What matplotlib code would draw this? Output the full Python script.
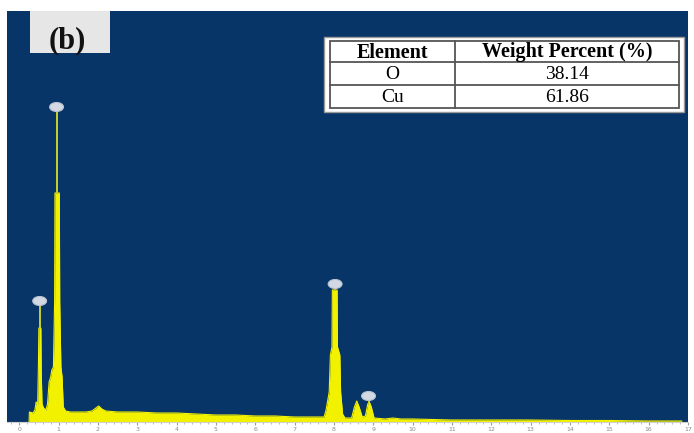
import matplotlib
matplotlib.use("Agg")
import matplotlib.pyplot as plt
from matplotlib.patches import Rectangle, Ellipse

# ---- data (counts in arbitrary units) ----
energy_kev = [0.25, 0.26, 0.35, 0.40, 0.43, 0.47, 0.49, 0.50, 0.55, 0.56, 0.58, 0.62,
              0.68, 0.72, 0.76, 0.80, 0.83, 0.87, 0.90, 0.91, 1.02, 1.03, 1.06, 1.09,
              1.12, 1.18, 1.30, 1.50, 1.70, 1.85, 1.95, 2.02, 2.10, 2.20, 2.50, 3.00,
              3.50, 4.00, 4.50, 5.00, 5.50, 6.00, 6.50, 7.00, 7.50, 7.75, 7.80, 7.88,
              7.91, 7.95, 7.96, 8.08, 8.09, 8.15, 8.17, 8.22, 8.28, 8.45, 8.52, 8.58,
              8.64, 8.72, 8.80, 8.86, 8.90, 8.95, 9.02, 9.30, 9.50, 9.70, 10.0, 11.0,
              12.0, 13.0, 14.0, 15.0, 16.0, 16.84]
counts = [0, 10, 9, 12, 20, 18, 60, 94, 94, 50, 18, 14,
          12, 18, 40, 45, 52, 55, 120, 229, 229, 120, 55, 45,
          15, 11, 10, 10, 10, 11, 14, 16, 13, 11, 10, 10,
          9, 9, 8, 7, 7, 6, 6, 5, 5, 5, 12, 30,
          67, 75, 132, 132, 75, 67, 30, 8, 4, 4, 15, 21,
          15, 5, 6, 18, 20, 15, 4, 3, 4, 3, 3, 2,
          2, 2, 1.5, 1.5, 1, 1]

marker_energy = [0.52, 0.95, 8.03, 8.88]
marker_peak = [94, 229, 132, 20]
marker_height = [121, 315, 138, 26]

table_header = ["Element", "Weight Percent (%)"]
elements = ["O", "Cu"]
weight_percent = ["38.14", "61.86"]

xticks = list(range(0, 18))
xtick_labels = [str(v) for v in xticks]

BLUE = "#083567"
YELLOW = "#f2f200"

W, H = 694, 433
fig = plt.figure(figsize=(W / 100, H / 100), dpi=100)
fig.patch.set_facecolor("white")
ax = fig.add_axes([7 / W, 11 / H, 681 / W, 411 / H])
ax.set_facecolor(BLUE)
ax.set_xlim(-0.31, 16.84)
ax.set_ylim(0, 411)

ax.fill_between(energy_kev, counts, 0, color=YELLOW, lw=0)
ax.plot(energy_kev, counts, color=YELLOW, lw=0.8)

# element markers
ax.vlines(marker_energy, marker_peak, marker_height, color="#c9d12a", lw=1.4, zorder=3)
for e, h in zip(marker_energy, marker_height):
    ax.add_patch(Ellipse((e, h), 14 / 39.71, 9, facecolor="#d3d9e3",
                         edgecolor="#b8c2d2", lw=0.8, zorder=4))

for s in ["top", "right", "left"]:
    ax.spines[s].set_visible(False)
ax.spines["bottom"].set_color("#cfcfcf")
ax.set_yticks([])
ax.set_xticks(xticks)
ax.set_xticklabels(xtick_labels, fontsize=4.5, color="#8a8a8a")
ax.set_xticks([v / 5 for v in range(-1, 85)], minor=True)
ax.tick_params(axis="x", which="major", length=2.5, color="#999999", pad=0.8)
ax.tick_params(axis="x", which="minor", length=1.6, color="#aaaaaa")

# (b) label box
def ax_x(px):
    return (px - 7) / 681

def ax_y(py):
    return (422 - py) / 411

ax.add_patch(Rectangle((ax_x(30), ax_y(53)), ax_x(110) - ax_x(30), ax_y(11) - ax_y(53),
                       transform=ax.transAxes, facecolor="#e6e6e6", edgecolor="none", zorder=5))
ax.text(ax_x(67), ax_y(41), "(b)", transform=ax.transAxes, ha="center", va="center",
        fontsize=22, fontweight="bold", family="Liberation Serif", color="#111111", zorder=6)

# table
ax.add_patch(Rectangle((ax_x(324), ax_y(112)), ax_x(684) - ax_x(324), ax_y(37) - ax_y(112),
                       transform=ax.transAxes, facecolor="white", edgecolor="#9a9a9a",
                       lw=1.0, zorder=5))
x0, x1, xm = 330, 679, 455
y0, y1, ya, yb = 41, 108, 62, 85
ax.add_patch(Rectangle((ax_x(x0), ax_y(y1)), ax_x(x1) - ax_x(x0), ax_y(y0) - ax_y(y1),
                       transform=ax.transAxes, facecolor="white", edgecolor="#555555",
                       lw=1.3, zorder=6))
ax.plot([ax_x(xm), ax_x(xm)], [ax_y(y0), ax_y(y1)], transform=ax.transAxes,
        color="#555555", lw=1.3, zorder=7)
for yy in (ya, yb):
    ax.plot([ax_x(x0), ax_x(x1)], [ax_y(yy), ax_y(yy)], transform=ax.transAxes,
            color="#555555", lw=1.3, zorder=7)

c1 = (x0 + xm) / 2
c2 = (xm + x1) / 2
rows_y = [(y0 + ya) / 2 + 1, (ya + yb) / 2 + 1, (yb + y1) / 2 + 1]
ax.text(ax_x(c1), ax_y(rows_y[0]), table_header[0], transform=ax.transAxes, ha="center",
        va="center", fontsize=14.5, fontweight="bold", family="Liberation Serif", zorder=8)
ax.text(ax_x(c2), ax_y(rows_y[0]), table_header[1], transform=ax.transAxes, ha="center",
        va="center", fontsize=14.5, fontweight="bold", family="Liberation Serif", zorder=8)
for i, (el, wp) in enumerate(zip(elements, weight_percent)):
    ax.text(ax_x(c1), ax_y(rows_y[i + 1]), el, transform=ax.transAxes, ha="center",
            va="center", fontsize=14, family="Liberation Serif", zorder=8)
    ax.text(ax_x(c2), ax_y(rows_y[i + 1]), wp, transform=ax.transAxes, ha="center",
            va="center", fontsize=14, family="Liberation Serif", zorder=8)

fig.savefig("out.png", dpi=100, facecolor="white")
